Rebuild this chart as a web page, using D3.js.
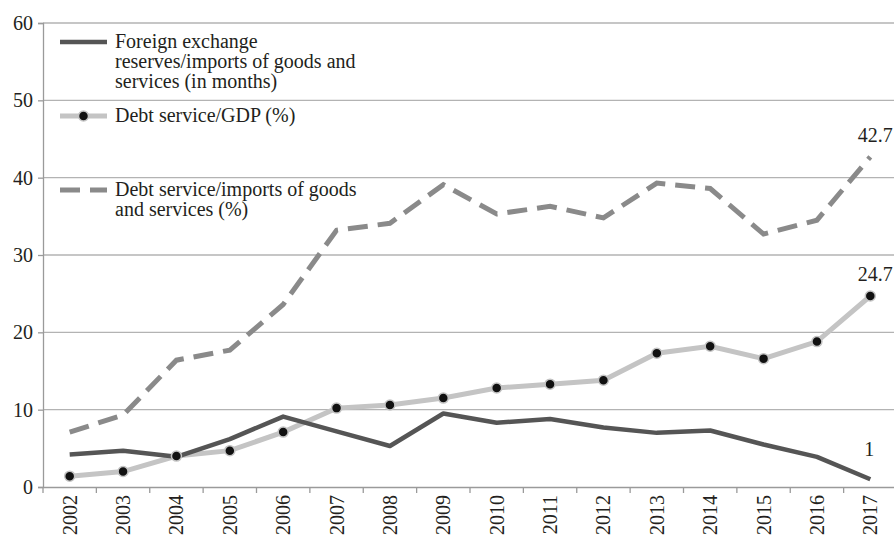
<!DOCTYPE html>
<html>
<head>
<meta charset="utf-8">
<script src="https://cdn.jsdelivr.net/npm/d3@7"></script>
<style>
  body { margin: 0; background: #fff; }
  svg text { font-family: "Liberation Serif", "DejaVu Serif", serif; fill: #231f20; }
</style>
</head>
<body>
<svg width="894" height="538"></svg>
<script>
// DATA
var years = ["2002","2003","2004","2005","2006","2007","2008","2009",
             "2010","2011","2012","2013","2014","2015","2016","2017"];

var reserves  = [4.2, 4.7, 3.9, 6.2, 9.1, 7.2, 5.3, 9.5, 8.3, 8.8, 7.7, 7.0, 7.3, 5.5, 3.9, 1.0];
var debtGdp   = [1.4, 2.0, 4.0, 4.7, 7.1, 10.2, 10.6, 11.5, 12.8, 13.3, 13.8, 17.3, 18.2, 16.6, 18.8, 24.7];
var debtImp   = [7.1, 9.3, 16.4, 17.7, 23.6, 33.2, 34.1, 39.1, 35.3, 36.3, 34.8, 39.3, 38.6, 32.7, 34.5, 42.7];

var yTicks = [0, 10, 20, 30, 40, 50, 60];

var legendLabels = [
  ["Foreign exchange", "reserves/imports of goods and", "services (in months)"],
  ["Debt service/GDP (%)"],
  ["Debt service/imports of goods", "and services (%)"]
];

// SET UP CHART
var svg = d3.select("svg"),
  margin = { top: 23, left: 43 },
  plotRight = 897,
  plotBottom = 487;

var serif = "Liberation Serif, DejaVu Serif, serif";

var x = d3.scaleBand().domain(years).range([margin.left, plotRight]).padding(0);
var y = d3.scaleLinear().domain([0, 60]).range([plotBottom, margin.top]);

var cx = function(i) { return x(years[i]) + x.bandwidth() / 2; };

// GRID
svg.append("g")
  .selectAll("line")
  .data(yTicks.filter(function(d) { return d > 0; }))
  .enter().append("line")
  .attr("x1", margin.left).attr("x2", 894)
  .attr("y1", function(d) { return y(d); })
  .attr("y2", function(d) { return y(d); })
  .attr("stroke", "#b3b3b3")
  .attr("stroke-width", 1.3);

// Y AXIS
var yAxis = svg.append("g")
  .attr("transform", "translate(" + margin.left + ",0)")
  .call(d3.axisLeft(y).tickValues(yTicks).tickSize(5).tickPadding(5))
  .attr("font-family", serif)
  .attr("font-size", 20);
yAxis.select(".domain").attr("stroke", "#9a9a9a").attr("stroke-width", 1.3);
yAxis.selectAll(".tick line").attr("stroke", "#9a9a9a").attr("stroke-width", 1.3);
yAxis.selectAll(".tick text").attr("fill", "#231f20");

// X AXIS
var xAxis = svg.append("g")
  .attr("transform", "translate(0," + plotBottom + ")")
  .call(d3.axisBottom(x).tickSize(0).tickPadding(8))
  .attr("font-family", serif)
  .attr("font-size", 20);
xAxis.select(".domain").attr("stroke", "#9a9a9a").attr("stroke-width", 1.3);
xAxis.selectAll(".tick text")
  .attr("fill", "#231f20")
  .attr("text-anchor", "end")
  .attr("x", -8).attr("y", 0)
  .attr("dy", "0.35em")
  .attr("transform", "rotate(-90)");

// boundary ticks between categories
svg.append("g")
  .selectAll("line")
  .data(years)
  .enter().append("line")
  .attr("x1", function(d) { return x(d); })
  .attr("x2", function(d) { return x(d); })
  .attr("y1", plotBottom).attr("y2", plotBottom + 6)
  .attr("stroke", "#9a9a9a").attr("stroke-width", 1.3);

// LINES
var line = d3.line()
  .x(function(d, i) { return cx(i); })
  .y(function(d) { return y(d); });

svg.append("path").datum(debtImp)
  .attr("d", line)
  .attr("fill", "none")
  .attr("stroke", "#8a8a8a")
  .attr("stroke-width", 5)
  .attr("stroke-dasharray", "20,10");

svg.append("path").datum(debtGdp)
  .attr("d", line)
  .attr("fill", "none")
  .attr("stroke", "#c4c4c4")
  .attr("stroke-width", 5);

svg.append("path").datum(reserves)
  .attr("d", line)
  .attr("fill", "none")
  .attr("stroke", "#555555")
  .attr("stroke-width", 4.5)
  .attr("stroke-linejoin", "round");

svg.append("g")
  .selectAll("circle")
  .data(debtGdp)
  .enter().append("circle")
  .attr("cx", function(d, i) { return cx(i); })
  .attr("cy", function(d) { return y(d); })
  .attr("r", 5)
  .attr("fill", "#111")
  .attr("stroke", "#c4c4c4")
  .attr("stroke-width", 1.5);

// END LABELS
var last = years.length - 1;
var endLabels = [
  { v: debtImp[last], t: "42.7", dy: -15 },
  { v: debtGdp[last], t: "24.7", dy: -15 },
  { v: reserves[last], t: "1", dy: -23 }
];
svg.append("g")
  .selectAll("text")
  .data(endLabels)
  .enter().append("text")
  .attr("x", function(d) { return cx(last) + (d.t === "1" ? -1 : 5); })
  .attr("y", function(d) { return y(d.v) + d.dy; })
  .attr("text-anchor", "middle")
  .attr("font-size", "20px")
  .text(function(d) { return d.t; });

// LEGEND
var legend = svg.append("g").attr("transform", "translate(60,0)");
var legY = [42, 116, 190];

legend.append("line")
  .attr("x1", 0).attr("x2", 47).attr("y1", legY[0]).attr("y2", legY[0])
  .attr("stroke", "#555555").attr("stroke-width", 4.5);
legend.append("line")
  .attr("x1", 0).attr("x2", 47).attr("y1", legY[1]).attr("y2", legY[1])
  .attr("stroke", "#c4c4c4").attr("stroke-width", 5);
legend.append("circle")
  .attr("cx", 23.5).attr("cy", legY[1]).attr("r", 5)
  .attr("fill", "#111").attr("stroke", "#c4c4c4").attr("stroke-width", 1.5);
legend.append("line")
  .attr("x1", 0).attr("x2", 47).attr("y1", legY[2]).attr("y2", legY[2])
  .attr("stroke", "#8a8a8a").attr("stroke-width", 5)
  .attr("stroke-dasharray", "20,10");

legendLabels.forEach(function(lines, k) {
  var t = legend.append("text")
    .attr("x", 55)
    .attr("y", legY[k] + 6)
    .attr("font-size", "20px");
  lines.forEach(function(s, j) {
    t.append("tspan").attr("x", 55).attr("dy", j === 0 ? 0 : 20).text(s);
  });
});
</script>
</body>
</html>
